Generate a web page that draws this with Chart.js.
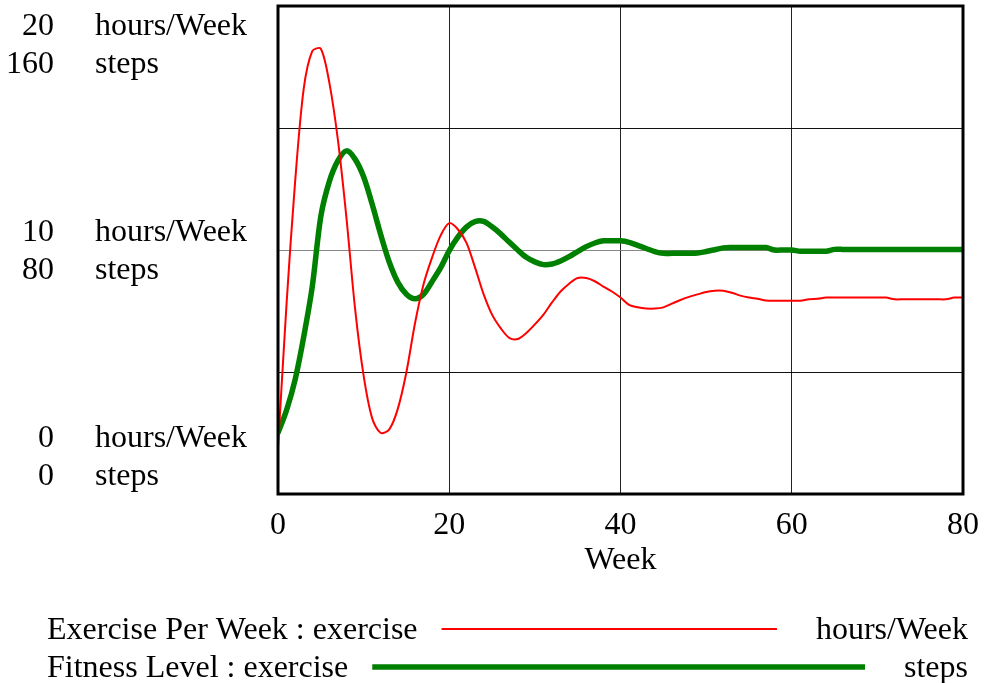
<!DOCTYPE html>
<html>
<head>
<meta charset="utf-8">
<script src="https://cdn.jsdelivr.net/npm/chart.js@4.4.1/dist/chart.umd.min.js"></script>
<style>
  body { margin: 0; background: #fff; }
  canvas { display: block; }
</style>
</head>
<body>
<canvas id="myChart" width="990" height="683"></canvas>
<script>
// simulation output, one value per week
const weeks = [0, 1, 2, 3, 4, 5, 6, 7, 8, 9, 10, 11, 12, 13, 14, 15, 16, 17, 18, 19,
  20, 21, 22, 23, 24, 25, 26, 27, 28, 29, 30, 31, 32, 33, 34, 35, 36, 37, 38, 39,
  40, 41, 42, 43, 44, 45, 46, 47, 48, 49, 50, 51, 52, 53, 54, 55, 56, 57, 58, 59,
  60, 61, 62, 63, 64, 65, 66, 67, 68, 69, 70, 71, 72, 73, 74, 75, 76, 77, 78, 79, 80];

const exercise = [1.9, 7.8, 12.8, 16.6, 18.15, 18.25, 16.85, 14.5, 11.3, 7.6,
  4.85, 3.1, 2.5, 2.65, 3.5, 5.0, 7.0, 8.6, 9.7, 10.6,
  11.1, 10.85, 10.3, 9.3, 8.2, 7.35, 6.8, 6.4, 6.35, 6.6,
  6.95, 7.35, 7.85, 8.3, 8.62, 8.85, 8.85, 8.72, 8.5, 8.3,
  8.05, 7.75, 7.65, 7.6, 7.6, 7.65, 7.8, 7.95, 8.08, 8.18,
  8.28, 8.33, 8.33, 8.25, 8.13, 8.05, 8.0, 7.93, 7.92, 7.92,
  7.92, 7.92, 7.98, 8.0, 8.05, 8.05, 8.05, 8.05, 8.05, 8.05,
  8.05, 8.05, 7.98, 7.98, 7.98, 7.98, 7.98, 7.98, 7.98, 8.05, 8.05];

const fitness = [20, 27.5, 37.5, 51.5, 68, 91, 102.5, 109.3, 112.5, 109.8,
  104, 95, 85, 76, 69.4, 65.5, 64, 65.5, 69.7, 74.2,
  79.8, 84.2, 87.5, 89.3, 89.4, 87.6, 85.3, 82.6, 80.0, 77.6,
  76.1, 75.2, 75.4, 76.4, 77.8, 79.5, 81.1, 82.3, 83, 83,
  83, 82.5, 81.5, 80.5, 79.5, 78.9, 78.9, 78.9, 78.9, 79.0,
  79.5, 80.1, 80.7, 80.8, 80.8, 80.8, 80.8, 80.8, 80.0, 80.0,
  80.0, 79.6, 79.6, 79.6, 79.6, 80.2, 80.2, 80.2, 80.2, 80.2,
  80.2, 80.2, 80.2, 80.2, 80.2, 80.2, 80.2, 80.2, 80.2, 80.2, 80.2];

const weekTicks = [0, 20, 40, 60, 80];
const hoursTicks = [0, 10, 20];
const stepsTicks = [0, 80, 160];
const seriesNames = ["Exercise Per Week : exercise", "Fitness Level : exercise"];
const seriesUnits = ["hours/Week", "steps"];
const seriesColors = ["#ff0000", "#008000"];
const seriesWidths = [2, 5.5];

const FONT = '32px "Liberation Serif", "Times New Roman", serif';

function toPoints(ys) {
  return weeks.map((w, i) => ({ x: w, y: ys[i] }));
}

// axis labels, frame and the legend underneath
const textPlugin = {
  id: "textPlugin",
  afterDraw(chart) {
    const ctx = chart.ctx;
    const area = chart.chartArea;
    const xs = chart.scales.x;
    const ys = chart.scales.y;
    ctx.save();

    ctx.strokeStyle = "#000";
    ctx.lineWidth = 3;
    ctx.strokeRect(area.left, area.top, area.right - area.left, area.bottom - area.top);

    ctx.font = FONT;
    ctx.fillStyle = "#000";
    ctx.textBaseline = "alphabetic";

    hoursTicks.forEach((h, i) => {
      const py = ys.getPixelForValue(h);
      let top = py - 38;
      if (i === 0) top = py - 76;
      if (i === hoursTicks.length - 1) top = py;
      ctx.textAlign = "right";
      ctx.fillText(String(h), 54, top + 29);
      ctx.fillText(String(stepsTicks[i]), 54, top + 67);
      ctx.textAlign = "left";
      ctx.fillText(seriesUnits[0], 95, top + 29);
      ctx.fillText(seriesUnits[1], 95, top + 67);
    });

    ctx.textAlign = "center";
    weekTicks.forEach(w => {
      ctx.fillText(String(w), xs.getPixelForValue(w), area.bottom + 40);
    });
    ctx.fillText("Week", (area.left + area.right) / 2, area.bottom + 75);

    seriesNames.forEach((name, i) => {
      const base = 639 + i * 38;
      ctx.textAlign = "left";
      ctx.fillText(name, 47, base);
      ctx.textAlign = "right";
      ctx.fillText(seriesUnits[i], 968, base);
      const x0 = 47 + ctx.measureText(name).width + 24;
      const x1 = 968 - ctx.measureText(seriesUnits[i]).width - 39;
      ctx.strokeStyle = seriesColors[i];
      ctx.lineWidth = seriesWidths[i];
      ctx.beginPath();
      ctx.moveTo(x0, base - 10);
      ctx.lineTo(x1, base - 10);
      ctx.stroke();
    });

    ctx.restore();
  }
};

new Chart(document.getElementById("myChart").getContext("2d"), {
  type: "line",
  data: {
    datasets: [
      {
        label: seriesNames[0],
        data: toPoints(exercise),
        yAxisID: "y",
        borderColor: seriesColors[0],
        borderWidth: seriesWidths[0],
        pointRadius: 0,
        fill: false,
        tension: 0.3,
      },
      {
        label: seriesNames[1],
        data: toPoints(fitness),
        yAxisID: "y2",
        borderColor: seriesColors[1],
        borderWidth: seriesWidths[1],
        pointRadius: 0,
        fill: false,
        tension: 0.3,
      },
    ],
  },
  options: {
    responsive: false,
    animation: false,
    events: [],
    layout: { padding: { left: 278, right: 27, top: 6, bottom: 189 } },
    plugins: { legend: { display: false }, tooltip: { enabled: false } },
    scales: {
      x: {
        type: "linear",
        min: 0,
        max: 80,
        border: { display: false },
        ticks: { display: false, stepSize: 20 },
        grid: { color: "#222", lineWidth: 1, drawTicks: false },
      },
      y: {
        min: 0,
        max: 20,
        border: { display: false },
        ticks: { display: false, stepSize: 5 },
        grid: {
          color: c => (c.tick && c.tick.value === 10 ? "#888" : "#111"),
          lineWidth: 1,
          drawTicks: false,
        },
      },
      y2: { display: false, min: 0, max: 160 },
    },
  },
  plugins: [textPlugin],
});
</script>
</body>
</html>
